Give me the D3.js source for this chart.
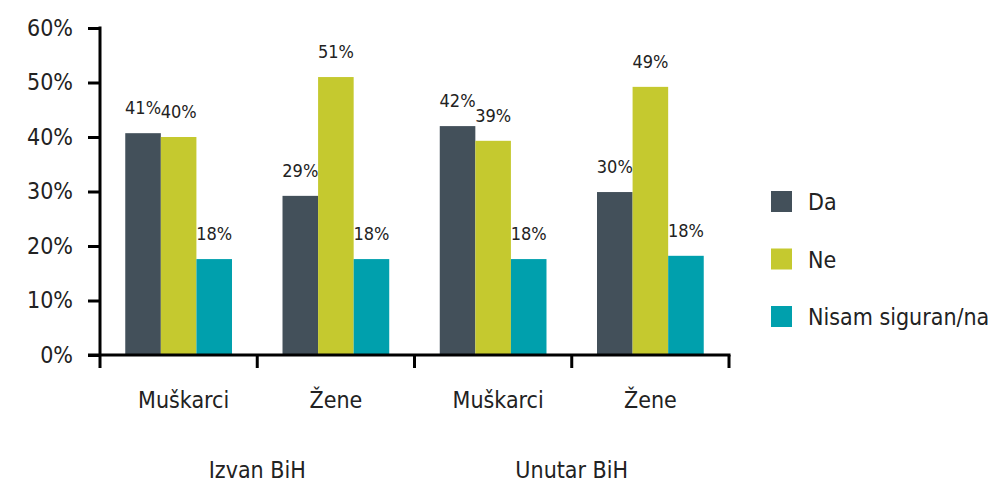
<!DOCTYPE html>
<html>
<head>
<meta charset="utf-8">
<script src="https://cdn.jsdelivr.net/npm/d3@7"></script>
<style>
  body { margin: 0; background: #fff; }
  text { font-family: "DejaVu Sans Condensed", "DejaVu Sans", sans-serif; fill: #222; }
</style>
</head>
<body>
<script>
var w = 989;
var h = 482;

// data
var groups = ["Izvan BiH", "Unutar BiH"];
var categories = ["Muškarci", "Žene", "Muškarci", "Žene"];
var series = ["Da", "Ne", "Nisam siguran/na"];
var da = [40.7, 29.2, 42.0, 29.9];
var ne = [40.0, 51.0, 39.3, 49.2];
var nisam = [17.6, 17.6, 17.6, 18.2];
var yTicks = [0, 10, 20, 30, 40, 50, 60];
var colors = ["#43505a", "#c5c92f", "#00a0ad"];

var values = [da, ne, nisam];

var svg = d3.select("body")
    .append("svg")
    .attr("width", w)
    .attr("height", h);

//scales
var x0 = d3.scaleBand()
    .domain(d3.range(categories.length))
    .range([100, 729])
    .padding(0);

var x1 = d3.scaleBand()
    .domain(d3.range(series.length))
    .range([0, x0.bandwidth()])
    .paddingInner(0)
    .paddingOuter(0.71);

var y = d3.scaleLinear()
    .domain([0, 60])
    .range([355, 28]);

var color = d3.scaleOrdinal()
    .domain(series)
    .range(colors);

//bars
var cat = svg.selectAll("g.cat")
    .data(categories)
    .enter()
    .append("g")
    .attr("class", "cat")
    .attr("transform", function (d, i) { return "translate(" + x0(i) + ",0)"; });

cat.selectAll("rect")
    .data(function (d, i) {
        return series.map(function (s, j) { return { s: s, j: j, v: values[j][i] }; });
    })
    .enter()
    .append("rect")
    .attr("x", function (d) { return x1(d.j); })
    .attr("width", x1.bandwidth())
    .attr("y", function (d) { return y(d.v); })
    .attr("height", function (d) { return y(0) - y(d.v); })
    .style("fill", function (d) { return color(d.s); });

cat.selectAll("text.val")
    .data(function (d, i) {
        return series.map(function (s, j) { return { s: s, j: j, v: values[j][i] }; });
    })
    .enter()
    .append("text")
    .attr("class", "val")
    .attr("x", function (d) { return x1(d.j) + x1.bandwidth() / 2; })
    .attr("y", function (d) { return y(d.v) - 19; })
    .attr("text-anchor", "middle")
    .style("font-size", "18px")
    .text(function (d) { return Math.round(d.v) + "%"; });

//y axis
var yAxis = d3.axisLeft(y)
    .tickValues(yTicks)
    .tickSize(12)
    .tickSizeOuter(0)
    .tickFormat(function (d) { return d + "%"; });

var gy = svg.append("g")
    .attr("transform", "translate(100,0)")
    .call(yAxis);
gy.select(".domain").remove();
gy.selectAll(".tick line").attr("stroke", "#000").attr("stroke-width", 3);
gy.selectAll(".tick text")
    .attr("x", -27)
    .style("font-size", "23px")
    .attr("fill", null);
gy.attr("font-family", null).attr("font-size", null);

//y axis line
svg.append("line")
    .attr("x1", 100).attr("x2", 100)
    .attr("y1", y(60) - 1.5).attr("y2", 368)
    .attr("stroke", "#000").attr("stroke-width", 3);

//x axis line
svg.append("line")
    .attr("x1", 88).attr("x2", x0.range()[1] + 1.5)
    .attr("y1", y(0)).attr("y2", y(0))
    .attr("stroke", "#000").attr("stroke-width", 3);

//x ticks at band boundaries
var bounds = d3.range(1, categories.length + 1).map(function (i) {
    return i < categories.length ? x0(i) : x0.range()[1];
});
svg.selectAll("line.xtick")
    .data(bounds)
    .enter()
    .append("line")
    .attr("class", "xtick")
    .attr("x1", function (d) { return d; })
    .attr("x2", function (d) { return d; })
    .attr("y1", y(0))
    .attr("y2", 368)
    .attr("stroke", "#000").attr("stroke-width", 3);

//category labels
svg.selectAll("text.cat")
    .data(categories)
    .enter()
    .append("text")
    .attr("class", "cat")
    .attr("x", function (d, i) { return x0(i) + x0.bandwidth() / 2 + (d == "Muškarci" ? 5 : 0); })
    .attr("y", 408)
    .attr("text-anchor", "middle")
    .style("font-size", "23px")
    .text(function (d) { return d; });

//group labels
svg.selectAll("text.grp")
    .data(groups)
    .enter()
    .append("text")
    .attr("class", "grp")
    .attr("x", function (d, i) { return x0(i * 2) + x0.bandwidth(); })
    .attr("y", 478)
    .attr("text-anchor", "middle")
    .style("font-size", "23px")
    .text(function (d) { return d; });

//legend
var legend = svg.selectAll("g.legend")
    .data(series)
    .enter()
    .append("g")
    .attr("class", "legend")
    .attr("transform", function (d, i) { return "translate(771," + (191 + i * 57.5) + ")"; });

legend.append("rect")
    .attr("width", 21)
    .attr("height", 21)
    .style("fill", function (d) { return color(d); });

legend.append("text")
    .attr("x", 37)
    .attr("y", 19)
    .style("font-size", "23px")
    .text(function (d) { return d; });
</script>
</body>
</html>
